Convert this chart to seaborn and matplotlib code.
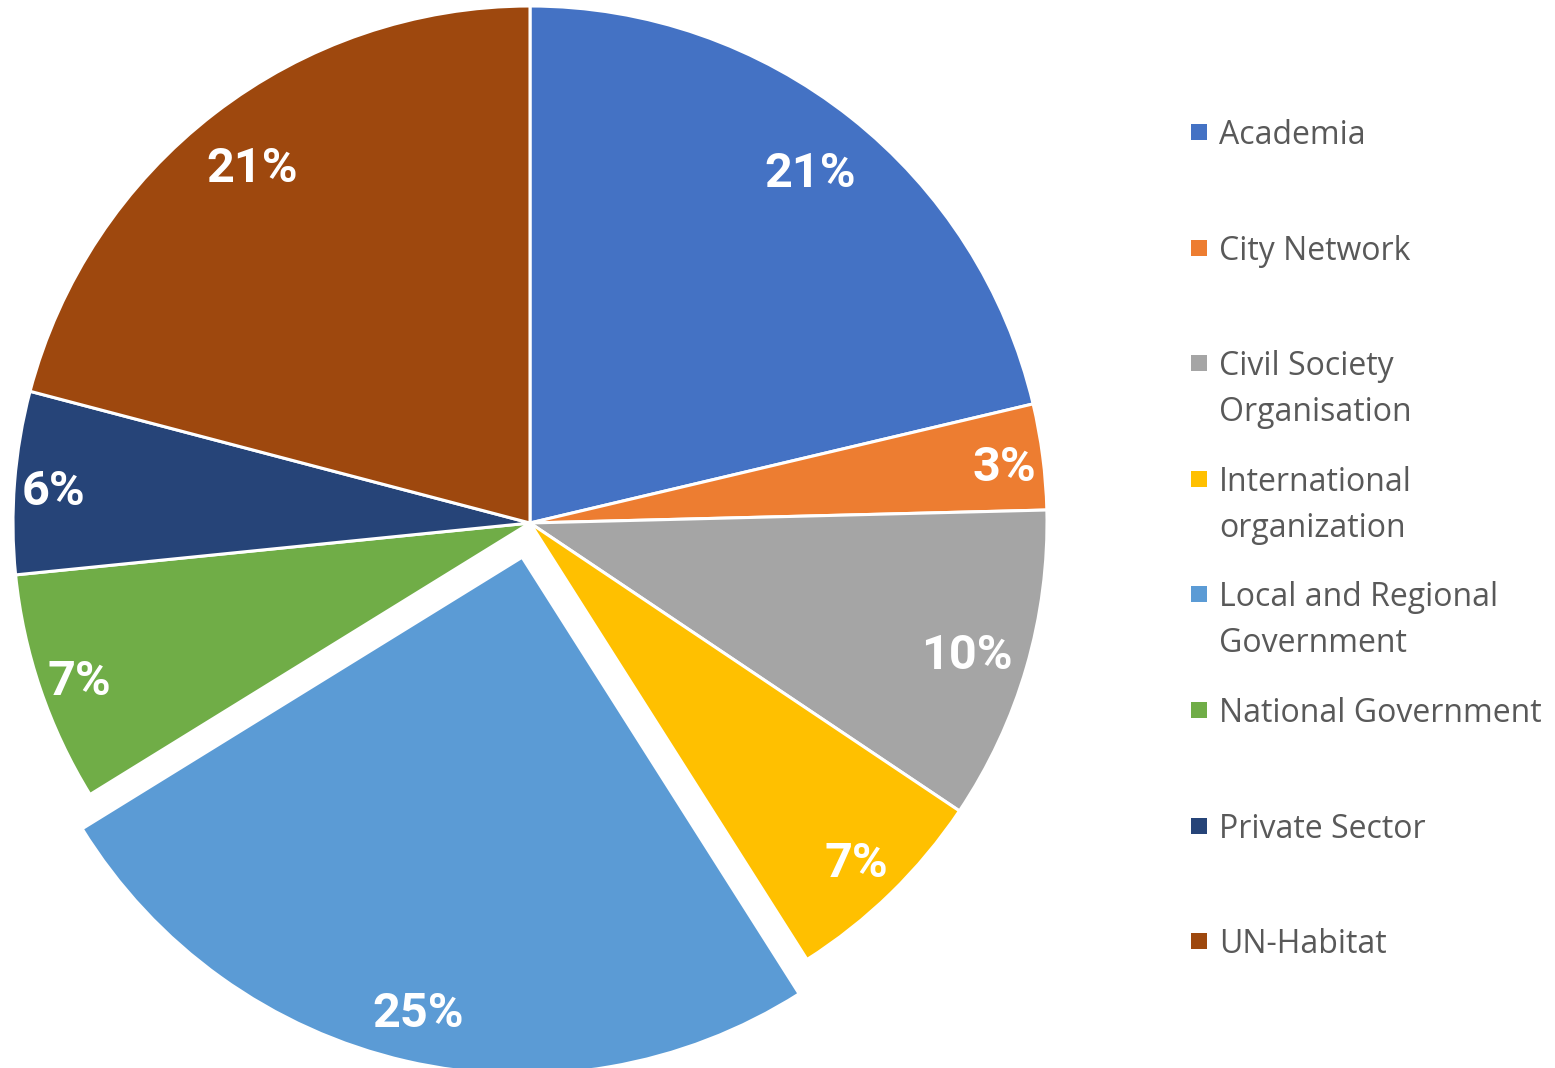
import numpy as np
import matplotlib.pyplot as plt
import seaborn as sns
from matplotlib.patches import Rectangle

# data (share of participants, %)
categories = ["Academia", "City Network", "Civil Society\nOrganisation",
              "International\norganization", "Local and Regional\nGovernment",
              "National Government", "Private Sector", "UN-Habitat"]
shares = [21.3, 3.3, 9.8, 6.6, 25.2, 7.2, 5.7, 20.9]
colors = ["#4472C4", "#ED7D31", "#A5A5A5", "#FFC000",
          "#5B9BD5", "#70AD47", "#264478", "#9E480E"]
explode = [0, 0, 0, 0, 0.068, 0, 0, 0]
# label distance from centre ("best fit" placement)
label_dist = [0.875, 0.925, 0.88, 0.905, 0.895, 0.92, 0.925, 0.88]

sns.set_theme(style="white")
palette = sns.color_palette(colors)

W, H = 1555, 1068
fig = plt.figure(figsize=(W / 100, H / 100), dpi=100)

# pie centred at (530, 523) px with radius 517 px
cx, cy, r = 530, 523, 517
ax = fig.add_axes([(cx - r) / W, 1 - (cy + r) / H, 2 * r / W, 2 * r / H])
wedges, texts, autotexts = ax.pie(
    shares, colors=palette, explode=explode, startangle=90, counterclock=False,
    autopct="%1.0f%%", pctdistance=0.89,
    wedgeprops=dict(edgecolor="white", linewidth=2.2),
    textprops=dict(color="white", fontsize=35, fontweight="bold", family="Roboto"))
for w, t, d in zip(wedges, autotexts, label_dist):
    w.set_clip_on(False)
    ang = np.deg2rad((w.theta1 + w.theta2) / 2)
    t.set_position((w.center[0] + d * np.cos(ang), w.center[1] + d * np.sin(ang) - 0.012))
ax.set_xlim(-1, 1)
ax.set_ylim(-1, 1)
ax.set_aspect("equal")
ax.axis("off")

# legend on the right
first_base = 144
step = 115.6
line_gap = 46
for i, name in enumerate(categories):
    base = first_base + i * step
    yc = base - 12
    fig.add_artist(Rectangle((1191 / W, 1 - (yc + 8) / H), 16 / W, 16 / H,
                             transform=fig.transFigure, color=palette[i], lw=0))
    for j, line in enumerate(name.split("\n")):
        fig.text(1219 / W, 1 - (base + j * line_gap) / H, line, va="baseline",
                 ha="left", fontsize=23, color="#595959", family="Open Sans")

fig.savefig("out.png", dpi=100)
